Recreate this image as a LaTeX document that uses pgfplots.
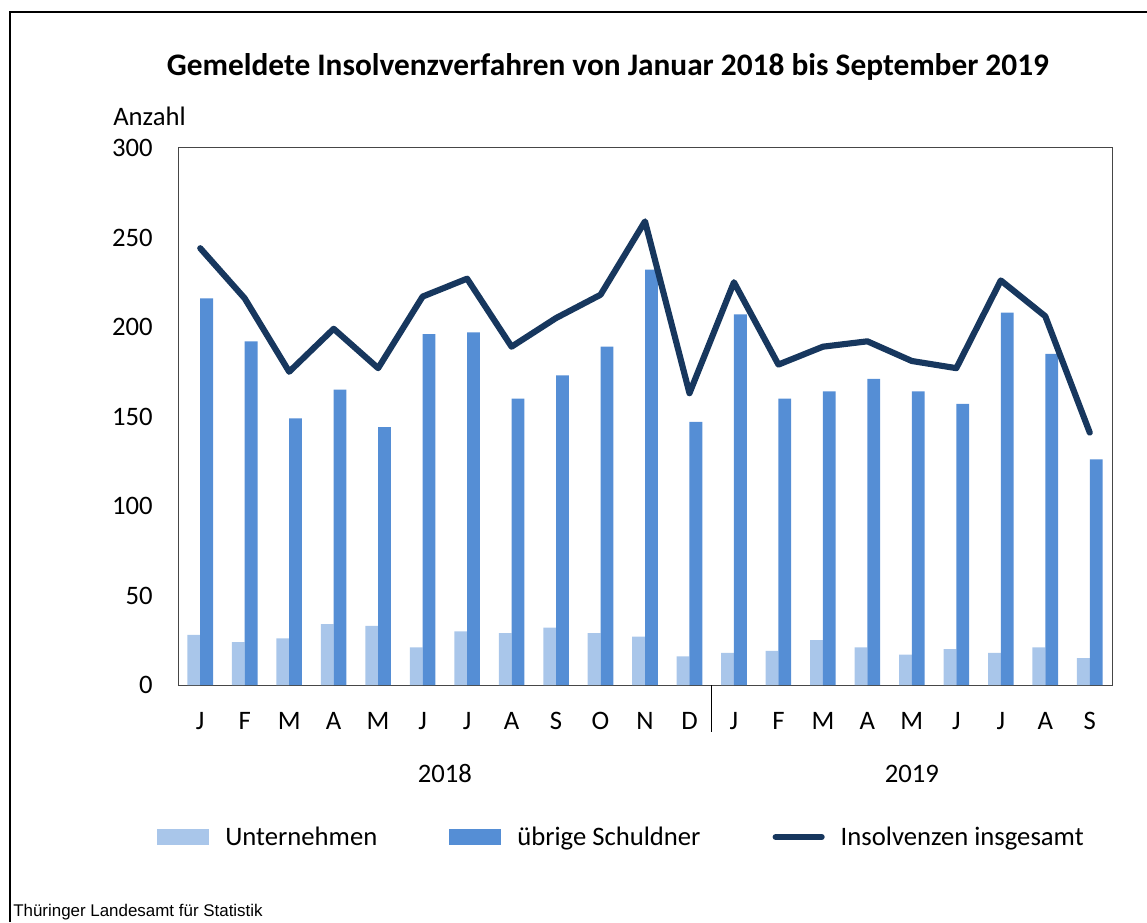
\documentclass[border=0pt]{standalone}
\usepackage{pgfplots}
\pgfplotsset{compat=1.18}
\usepackage{fontspec}
\setmainfont{Carlito}
\newfontfamily\srcfont{Liberation Sans}
\definecolor{lightbar}{RGB}{169,198,234}
\definecolor{midbar}{RGB}{85,142,213}
\definecolor{navy}{RGB}{23,55,94}
\definecolor{framegray}{RGB}{70,70,70}
\begin{document}
\begin{tikzpicture}
\path[use as bounding box] (0,0) rectangle (860.25pt,691.5pt);
\draw[line width=1.5pt] (7.5pt,0pt) -- (7.5pt,682.5pt) -- (860.25pt,682.5pt);
\node[font=\fontsize{23.5}{28}\selectfont\bfseries] at (456pt,641pt) {Gemeldete Insolvenzverfahren von Januar 2018 bis September 2019};
\node[anchor=west, inner sep=0pt, font=\fontsize{20}{24}\selectfont] at (84.75pt,604.5pt) {Anzahl};
\node[anchor=base west, inner sep=0pt, font=\srcfont\fontsize{12.7}{14}\selectfont] at (9.75pt,4.5pt) {Thüringer Landesamt für Statistik};
\begin{axis}[
  at={(133.5pt,177.75pt)}, anchor=south west,
  scale only axis, width=700.5pt, height=402.75pt,
  xmin=-0.5, xmax=20.5, ymin=0, ymax=300,
  ytick={0,50,...,300},
  xtick={0,...,20},
  xticklabels={J,F,M,A,M,J,J,A,S,O,N,D,J,F,M,A,M,J,J,A,S},
  major tick length=0pt,
  axis line style={draw=framegray, line width=0.75pt},
  /pgf/number format/assume math mode=true,
  tick label style={font=\fontsize{20}{24}\selectfont},
  yticklabel style={anchor=east, inner sep=0pt, xshift=-18.75pt},
  xticklabel style={anchor=base, inner sep=0pt, yshift=-33pt},
  clip=false,
  legend columns=3,
  legend style={at={(0.4738,-0.283)}, anchor=center, draw=none, fill=none,
    font=\fontsize{20}{24}\selectfont,
    nodes={inner sep=0pt},
    /tikz/every odd column/.append style={column sep=12pt},
    /tikz/every even column/.append style={column sep=54pt}},
]
\addplot[ybar, bar width=9.6pt, bar shift=-4.8pt, fill=lightbar, draw=none,
  legend image code/.code={\fill[lightbar] (0pt,-6pt) rectangle (39pt,6pt);}]
  coordinates {(0,28) (1,24) (2,26) (3,34) (4,33) (5,21) (6,30) (7,29) (8,32) (9,29) (10,27) (11,16)
  (12,18) (13,19) (14,25) (15,21) (16,17) (17,20) (18,18) (19,21) (20,15)};
\addlegendentry{Unternehmen}
\addplot[ybar, bar width=9.6pt, bar shift=4.8pt, fill=midbar, draw=none,
  legend image code/.code={\fill[midbar] (0pt,-6pt) rectangle (39pt,6pt);}]
  coordinates {(0,216) (1,192) (2,149) (3,165) (4,144) (5,196) (6,197) (7,160) (8,173) (9,189) (10,232) (11,147)
  (12,207) (13,160) (14,164) (15,171) (16,164) (17,157) (18,208) (19,185) (20,126)};
\addlegendentry{übrige Schuldner}
\addplot[navy, line width=4.6pt, line join=round, line cap=round, mark=none, sharp plot,
  legend image code/.code={\draw[navy, line width=4.6pt, line cap=round] (2.5pt,0pt) -- (37pt,0pt);}]
  coordinates {(0,244) (1,216) (2,175) (3,199) (4,177) (5,217) (6,227) (7,189) (8,205) (9,218) (10,259) (11,163)
  (12,225) (13,179) (14,189) (15,192) (16,181) (17,177) (18,226) (19,206) (20,141)};
\addlegendentry{Insolvenzen insgesamt}
\draw[black, line width=0.9pt] (axis cs:11.5,0) -- ++(0pt,-35.25pt);
\node[anchor=base, font=\fontsize{20}{24}\selectfont] at (axis cs:5.5,0) [yshift=-72.75pt] {2018};
\node[anchor=base, font=\fontsize{20}{24}\selectfont] at (axis cs:16,0) [yshift=-72.75pt] {2019};
\end{axis}
\end{tikzpicture}
\end{document}
